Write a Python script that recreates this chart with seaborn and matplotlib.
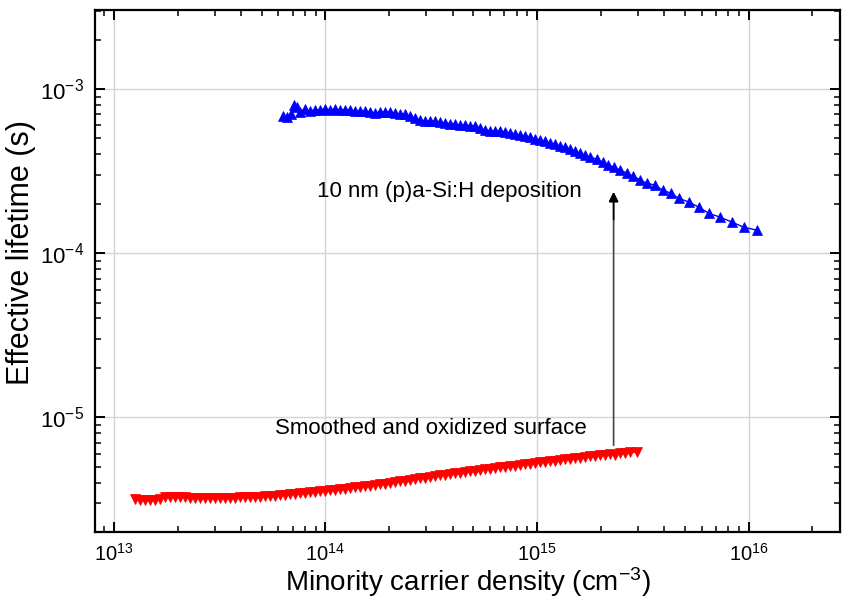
import matplotlib
matplotlib.use("Agg")
import matplotlib.pyplot as plt
import seaborn as sns

# Passivated sample after (p)a-Si:H deposition (blue triangles)
dep_density = [
    6.29e13, 6.57e13, 6.86e13, 7.08e13, 7.32e13, 7.56e13, 7.98e13, 8.43e13,
    8.90e13, 9.40e13, 9.92e13, 1.048e14, 1.106e14, 1.168e14, 1.234e14,
    1.302e14, 1.375e14, 1.452e14, 1.533e14, 1.619e14, 1.710e14, 1.805e14,
    1.906e14, 2.012e14, 2.125e14, 2.244e14, 2.369e14, 2.502e14, 2.641e14,
    2.789e14, 2.945e14, 3.109e14, 3.283e14, 3.467e14, 3.660e14, 3.865e14,
    4.081e14, 4.309e14, 4.550e14, 4.804e14, 5.073e14, 5.357e14, 5.656e14,
    5.972e14, 6.306e14, 6.658e14, 7.031e14, 7.424e14, 7.838e14, 8.277e14,
    8.739e14, 9.228e14, 9.743e14, 1.029e15, 1.086e15, 1.147e15, 1.211e15,
    1.279e15, 1.350e15, 1.426e15, 1.505e15, 1.589e15, 1.678e15, 1.772e15,
    1.91e15, 2.04e15, 2.16e15, 2.30e15, 2.46e15, 2.65e15, 2.83e15, 3.08e15,
    3.29e15, 3.59e15, 3.92e15, 4.28e15, 4.67e15, 5.20e15, 5.80e15, 6.47e15,
    7.29e15, 8.30e15, 9.46e15, 1.09e16,
]
dep_lifetime = [
    6.84e-4, 6.75e-4, 7.04e-4, 7.99e-4, 7.77e-4, 7.24e-4, 7.55e-4, 7.34e-4,
    7.45e-4, 7.45e-4, 7.55e-4, 7.45e-4, 7.55e-4, 7.45e-4, 7.45e-4,
    7.45e-4, 7.34e-4, 7.34e-4, 7.34e-4, 7.24e-4, 7.14e-4, 7.24e-4,
    7.24e-4, 7.24e-4, 7.14e-4, 7.04e-4, 7.04e-4, 6.84e-4, 6.65e-4,
    6.47e-4, 6.38e-4, 6.38e-4, 6.38e-4, 6.29e-4, 6.20e-4, 6.12e-4,
    6.12e-4, 6.03e-4, 6.03e-4, 5.95e-4, 5.95e-4, 5.78e-4, 5.62e-4,
    5.55e-4, 5.55e-4, 5.55e-4, 5.47e-4, 5.39e-4, 5.32e-4, 5.24e-4,
    5.17e-4, 5.10e-4, 4.96e-4, 4.89e-4, 4.82e-4, 4.69e-4, 4.62e-4,
    4.49e-4, 4.43e-4, 4.31e-4, 4.19e-4, 4.07e-4, 3.96e-4, 3.85e-4,
    3.74e-4, 3.59e-4, 3.44e-4, 3.35e-4, 3.21e-4, 3.08e-4, 2.95e-4, 2.79e-4,
    2.67e-4, 2.60e-4, 2.42e-4, 2.32e-4, 2.16e-4, 2.05e-4, 1.91e-4, 1.75e-4,
    1.66e-4, 1.55e-4, 1.44e-4, 1.38e-4,
]

# Smoothed and oxidized surface (red triangles)
ox_density = [
    1.257e13, 1.327e13, 1.401e13, 1.479e13, 1.562e13, 1.650e13, 1.741e13,
    1.839e13, 1.942e13, 2.050e13, 2.165e13, 2.286e13, 2.414e13, 2.549e13,
    2.691e13, 2.842e13, 3.000e13, 3.168e13, 3.345e13, 3.532e13, 3.730e13,
    3.938e13, 4.158e13, 4.391e13, 4.636e13, 4.896e13, 5.170e13, 5.458e13,
    5.763e13, 6.086e13, 6.425e13, 6.786e13, 7.161e13, 7.561e13, 7.98e13,
    8.43e13, 8.90e13, 9.40e13, 9.92e13, 1.048e14, 1.106e14, 1.168e14,
    1.234e14, 1.302e14, 1.375e14, 1.452e14, 1.533e14, 1.619e14, 1.710e14,
    1.805e14, 1.906e14, 2.012e14, 2.125e14, 2.244e14, 2.369e14, 2.502e14,
    2.641e14, 2.789e14, 2.945e14, 3.109e14, 3.283e14, 3.467e14, 3.660e14,
    3.865e14, 4.081e14, 4.309e14, 4.550e14, 4.804e14, 5.073e14, 5.357e14,
    5.656e14, 5.972e14, 6.306e14, 6.658e14, 7.031e14, 7.424e14, 7.838e14,
    8.277e14, 8.739e14, 9.228e14, 9.743e14, 1.029e15, 1.086e15, 1.147e15,
    1.211e15, 1.279e15, 1.350e15, 1.426e15, 1.505e15, 1.589e15, 1.678e15,
    1.772e15, 1.871e15, 1.976e15, 2.086e15, 2.203e15, 2.326e15, 2.456e15,
    2.593e15, 2.738e15, 2.954e15,
]
ox_lifetime = [
    3.16e-6, 3.12e-6, 3.12e-6, 3.12e-6, 3.12e-6, 3.16e-6, 3.25e-6,
    3.25e-6, 3.25e-6, 3.25e-6, 3.25e-6, 3.21e-6, 3.21e-6, 3.21e-6,
    3.21e-6, 3.21e-6, 3.21e-6, 3.21e-6, 3.21e-6, 3.21e-6, 3.21e-6,
    3.25e-6, 3.25e-6, 3.25e-6, 3.25e-6, 3.25e-6, 3.30e-6, 3.30e-6,
    3.30e-6, 3.35e-6, 3.35e-6, 3.39e-6, 3.39e-6, 3.44e-6, 3.44e-6,
    3.49e-6, 3.49e-6, 3.54e-6, 3.54e-6, 3.59e-6, 3.59e-6, 3.64e-6,
    3.64e-6, 3.69e-6, 3.74e-6, 3.74e-6, 3.80e-6, 3.80e-6, 3.85e-6,
    3.90e-6, 3.90e-6, 3.96e-6, 4.02e-6, 4.07e-6, 4.07e-6, 4.13e-6,
    4.19e-6, 4.25e-6, 4.25e-6, 4.31e-6, 4.37e-6, 4.43e-6, 4.43e-6,
    4.49e-6, 4.56e-6, 4.56e-6, 4.62e-6, 4.68e-6, 4.68e-6, 4.75e-6,
    4.82e-6, 4.82e-6, 4.89e-6, 4.96e-6, 4.96e-6, 5.03e-6, 5.03e-6,
    5.10e-6, 5.17e-6, 5.17e-6, 5.24e-6, 5.32e-6, 5.32e-6, 5.39e-6,
    5.39e-6, 5.47e-6, 5.54e-6, 5.54e-6, 5.62e-6, 5.62e-6, 5.70e-6,
    5.78e-6, 5.78e-6, 5.86e-6, 5.86e-6, 5.95e-6, 5.86e-6, 6.03e-6,
    6.03e-6, 6.12e-6, 6.12e-6,
]

sns.set_style("ticks")
plt.rcParams["font.family"] = ["Liberation Sans", "DejaVu Sans"]
plt.rcParams["mathtext.fontset"] = "custom"
plt.rcParams["mathtext.rm"] = "Liberation Sans"
plt.rcParams["mathtext.it"] = "Liberation Sans:italic"
plt.rcParams["mathtext.bf"] = "Liberation Sans:bold"
plt.rcParams["text.color"] = "black"
plt.rcParams["axes.labelcolor"] = "black"
plt.rcParams["xtick.color"] = "black"
plt.rcParams["ytick.color"] = "black"

fig = plt.figure(figsize=(8.43, 6.08), dpi=100)
ax = fig.add_axes([0.1127, 0.125, 0.8837, 0.8586])

sns.lineplot(x=dep_density, y=dep_lifetime, ax=ax, color="blue", sort=False,
             marker="^", markersize=6.5, markeredgecolor="blue",
             markeredgewidth=0.5, linewidth=1)
sns.lineplot(x=ox_density, y=ox_lifetime, ax=ax, color="red", sort=False,
             marker="v", markersize=6.5, markeredgecolor="red",
             markeredgewidth=0.5, linewidth=1)

ax.set_xscale("log")
ax.set_yscale("log")
ax.set_xlim(8.15e12, 2.7e16)
ax.set_ylim(2.0e-6, 3.03e-3)

ax.grid(True, which="major", color="#d3d3d3", linewidth=1)
ax.set_axisbelow(True)
for s in ax.spines.values():
    s.set_linewidth(1.6)
    s.set_color("black")
ax.tick_params(which="both", direction="in", top=True, right=True, pad=8)
ax.tick_params(axis="x", labelsize=14.5)
ax.tick_params(axis="y", labelsize=16)
ax.tick_params(which="major", length=7, width=1.4)
ax.tick_params(which="minor", length=4, width=1.1)

ax.set_xlabel("Minority carrier density (cm$^{-3}$)", fontsize=20, labelpad=0)
ax.set_ylabel("Effective lifetime (s)", fontsize=22)
ax.yaxis.set_label_coords(-0.079, 0.535)

ax.annotate("", xy=(2.30e15, 2.36e-4), xytext=(2.30e15, 6.75e-6),
            arrowprops=dict(arrowstyle="-|>", color="#444444", lw=1.2,
                            mutation_scale=14, shrinkA=0, shrinkB=0))
ax.annotate("", xy=(2.30e15, 2.36e-4), xytext=(2.30e15, 1.6e-4),
            arrowprops=dict(arrowstyle="-|>", color="black", lw=1.2,
                            mutation_scale=14, shrinkA=0, shrinkB=0))
ax.text(3.86e14, 2.36e-4, "10 nm (p)a-Si:H deposition", fontsize=16,
        ha="center", va="center")
ax.text(3.14e14, 8.57e-6, "Smoothed and oxidized surface", fontsize=16,
        ha="center", va="center")

fig.savefig("out.png", dpi=100)
